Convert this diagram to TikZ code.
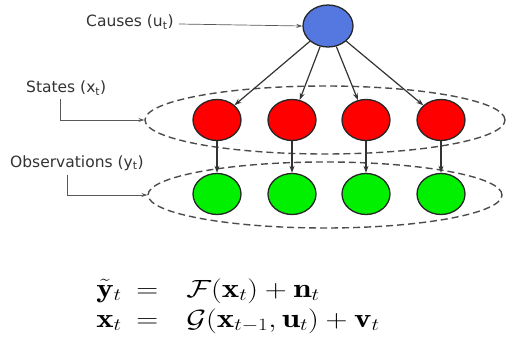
\documentclass[tikz,border=0pt]{standalone}
\usepackage{fontspec}
\setsansfont{DejaVu Sans}
\usepackage{amsmath,amssymb}
\usepackage{xcolor}
\usetikzlibrary{positioning,arrows.meta,shapes.geometric}
\definecolor{causeblue}{HTML}{5577E0}
\definecolor{statered}{HTML}{FF0000}
\definecolor{obsgreen}{HTML}{00F000}
\definecolor{linegray}{HTML}{333333}

\begin{document}
\begin{tikzpicture}[x=1pt,y=-1pt,
      var/.style={ellipse,draw=black!85,line width=1.3pt,minimum width=48pt,minimum height=41pt,inner sep=0pt},
      grp/.style={ellipse,draw=black!70,dash pattern=on 7pt off 4pt,line width=1.4pt,inner sep=0pt},
      lbl/.style={font=\fontsize{15.5}{18}\sffamily\selectfont,text=black!80,inner sep=0pt},
      edge/.style={draw=linegray,line width=1.2pt,-{Stealth[length=7pt,width=5pt]}},
      lead/.style={draw=black!65,line width=0.7pt,-{Stealth[length=6pt,width=4pt]}}]
    \useasboundingbox (0,0) rectangle (508,339);
    % groups
    \node[grp,minimum width=360pt,minimum height=68pt] (xs) at (325,120) {};
    \node[grp,minimum width=354pt,minimum height=66pt] (ys) at (325,195) {};
    % variables
    \node[var,fill=causeblue,minimum width=50pt,minimum height=42pt] (u) at (328,26) {};
    \foreach \i/\x in {1/217,2/292,3/366,4/441} {
      \node[var,fill=statered] (x\i) at (\x,120) {};
      \node[var,fill=obsgreen] (y\i) at (\x,194) {};
      \draw[edge] (u) -- (x\i);
      \draw[edge] (x\i) -- (y\i);
    }
    % labels
    \node[lbl,anchor=west] (causes) at (86,22) {Causes (u\textsubscript{t})};
    \node[lbl,anchor=west] (states) at (26,88) {States (x\textsubscript{t})};
    \node[lbl,anchor=west] (obs) at (10,163) {Observations (y\textsubscript{t})};
    \draw[lead] (causes.east) ++(5,2) -- (u.west);
    \draw[lead] (states.south west) ++(34,4) |- (xs.west);
    \draw[lead] (obs.south west) ++(57,4) |- (ys.west);
    % equations (stretched sideways like the source)
    \node[font=\fontsize{27}{30}\selectfont,inner sep=0pt,anchor=west] (eqs) at (90,306)
      {\scalebox{1.22}[1]{$\begin{array}{l@{\hspace{12pt}}c@{\hspace{23pt}}l}
        \tilde{\mathbf{y}}_t & = & \mathcal{F}(\mathbf{x}_t)+\mathbf{n}_t\\
        \mathbf{x}_t & = & \mathcal{G}(\mathbf{x}_{t-1},\mathbf{u}_t)+\mathbf{v}_t
      \end{array}$}};
  \end{tikzpicture}
\end{document}
